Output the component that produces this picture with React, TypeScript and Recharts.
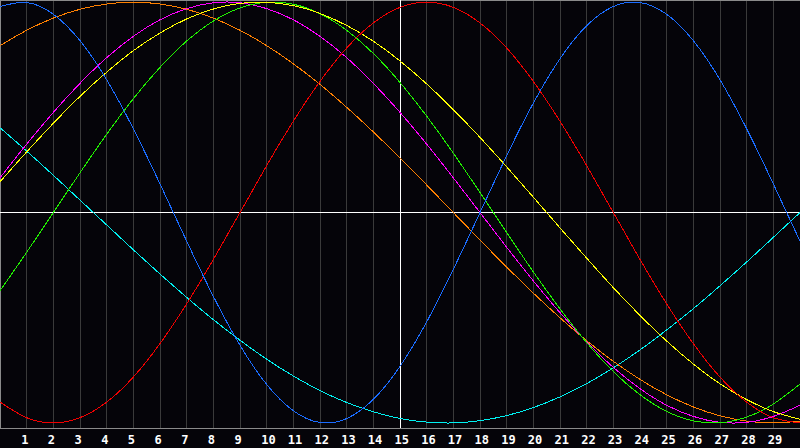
import { CartesianGrid, Line, LineChart, ReferenceArea, ReferenceLine, XAxis, YAxis } from "recharts";

const days = [0, 1, 2, 3, 4, 5, 6, 7, 8, 9, 10, 11, 12, 13, 14, 15, 16, 17, 18, 19, 20, 21, 22, 23, 24, 25, 26, 27, 28, 29, 30];
const dayLabels = [1, 2, 3, 4, 5, 6, 7, 8, 9, 10, 11, 12, 13, 14, 15, 16, 17, 18, 19, 20, 21, 22, 23, 24, 25, 26, 27, 28, 29];

// values, -100 (bottom) .. 100 (top), one per day
const red = [-90.1, -97.5, -100, -97.5, -90.1, -78.2, -62.3, -43.4, -22.3, 0, 22.3, 43.4, 62.3, 78.2, 90.1, 97.5, 100, 97.5, 90.1, 78.2, 62.3, 43.4, 22.3, 0, -22.3, -43.4, -62.3, -78.2, -90.1, -97.5, -100];
const blue = [97.9, 99.8, 94.2, 81.7, 63.1, 39.8, 13.6, -13.6, -39.8, -63.1, -81.7, -94.2, -99.8, -97.9, -88.8, -73.1, -52.0, -27.0, 0, 27.0, 52.0, 73.1, 88.8, 97.9, 99.8, 94.2, 81.7, 63.1, 39.8, 13.6, -13.6];
const green = [-37.2, -18.9, 0, 18.9, 37.2, 54.1, 69.0, 81.5, 91.0, 97.2, 99.9, 99.0, 94.5, 86.6, 75.6, 61.8, 45.8, 28.2, 9.5, -9.5, -28.2, -45.8, -61.8, -75.6, -86.6, -94.5, -99.0, -99.9, -97.2, -91.0, -81.5];
const cyan = [40.3, 29.2, 17.7, 5.9, -5.9, -17.7, -29.2, -40.3, -50.9, -60.7, -69.7, -77.7, -84.6, -90.3, -94.7, -97.9, -99.6, -100, -98.9, -96.5, -92.7, -87.6, -81.3, -73.8, -65.3, -55.8, -45.7, -34.8, -23.5, -11.8, 0];
const magenta = [16.5, 32.5, 47.6, 61.4, 73.6, 83.7, 91.6, 96.9, 99.7, 99.7, 96.9, 91.6, 83.7, 73.6, 61.4, 47.6, 32.5, 16.5, 0, -16.5, -32.5, -47.6, -61.4, -73.6, -83.7, -91.6, -96.9, -99.7, -99.7, -96.9, -91.6];
const yellow = [14.6, 28.8, 42.4, 55.2, 66.7, 76.9, 85.3, 92.0, 96.7, 99.4, 99.9, 98.3, 94.6, 88.9, 81.4, 72.0, 61.1, 48.9, 35.7, 21.7, 7.3, -7.3, -21.7, -35.7, -48.9, -61.1, -72.0, -81.4, -88.9, -94.6, -98.3];
const orange = [79.3, 86.6, 92.4, 96.6, 99.1, 100, 99.1, 96.6, 92.4, 86.6, 79.3, 70.7, 60.9, 50, 38.3, 25.9, 13.1, 0, -13.1, -25.9, -38.3, -50, -60.9, -70.7, -79.3, -86.6, -92.4, -96.6, -99.1, -100, -99.1];

const data = days.map((day, i) => ({
    day,
    red: red[i],
    blue: blue[i],
    green: green[i],
    cyan: cyan[i],
    magenta: magenta[i],
    yellow: yellow[i],
    orange: orange[i],
}));

const series = [
    { key: "cyan", color: "#00f0f0" },
    { key: "orange", color: "#ff8000" },
    { key: "magenta", color: "#ff00ff" },
    { key: "green", color: "#20f000" },
    { key: "yellow", color: "#ffff00" },
    { key: "red", color: "#f00000" },
    { key: "blue", color: "#1a6cff" },
];

const Y_MIN = -102.4;
const Y_MAX = 101;

function DayTick(props: any) {
    const { x, payload } = props;
    return (
        <text
            x={x - 5.5}
            y={443.5}
            fill="#ffffff"
            textAnchor="start"
            style={{ fontFamily: "'DejaVu Sans Mono', monospace", fontSize: 12, fontWeight: "bold" }}
        >
            {payload.value}
        </text>
    );
}

export default function App() {
    return (
        <div style={{ position: "absolute", left: 0, top: 0, width: 800, height: 448, background: "#050409" }}>
            <LineChart width={800} height={448} data={data} margin={{ top: 0, right: 0, bottom: 0, left: 0 }}>
                <CartesianGrid horizontal={false} stroke="#3a3a3a" shapeRendering="crispEdges" />
                <XAxis
                    type="number"
                    dataKey="day"
                    domain={[0, 30]}
                    ticks={dayLabels}
                    interval={0}
                    height={20}
                    tickLine={false}
                    axisLine={{ stroke: "#8a8a8a", shapeRendering: "crispEdges" }}
                    tick={<DayTick />}
                />
                <YAxis hide type="number" domain={[Y_MIN, Y_MAX]} allowDataOverflow />
                <ReferenceArea x1={0} x2={30} y1={Y_MIN} y2={Y_MAX} fill="none" stroke="#8a8a8a" shapeRendering="crispEdges" />
                <ReferenceLine x={15} stroke="#ffffff" shapeRendering="crispEdges" />
                <ReferenceLine y={0} stroke="#ffffff" shapeRendering="crispEdges" />
                {series.map((s) => (
                    <Line
                        key={s.key}
                        type="natural"
                        dataKey={s.key}
                        stroke={s.color}
                        strokeWidth={1}
                        dot={false}
                        activeDot={false}
                        isAnimationActive={false}
                        shapeRendering="crispEdges"
                    />
                ))}
            </LineChart>
        </div>
    );
}
